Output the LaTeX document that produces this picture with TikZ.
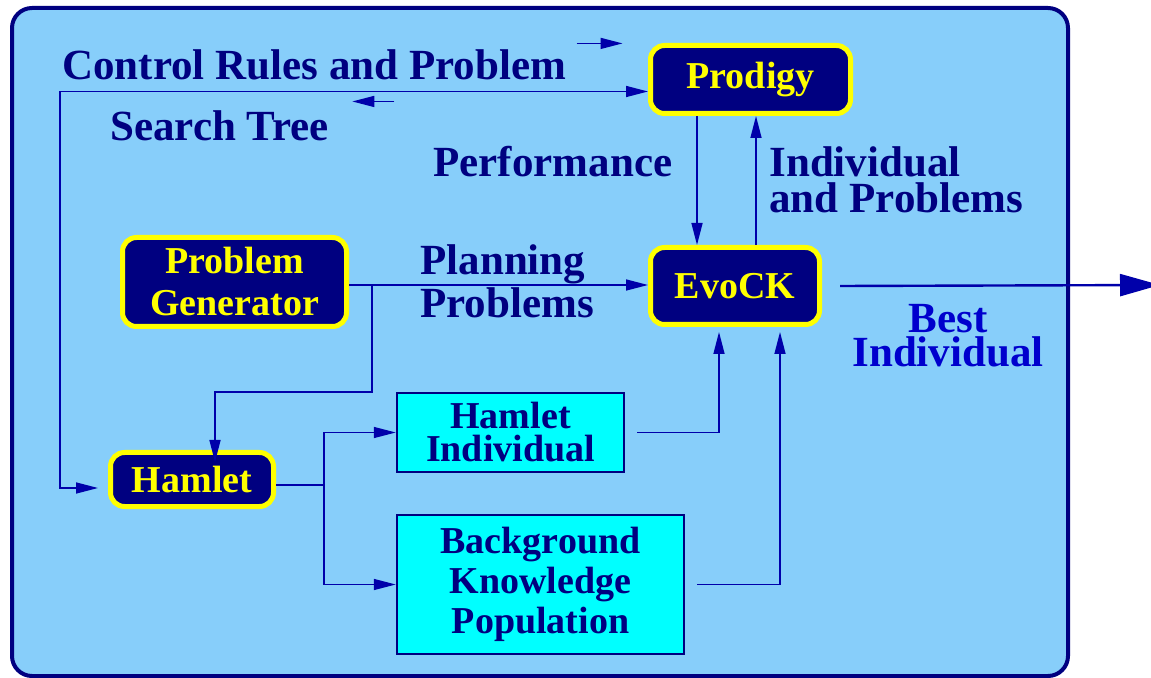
\documentclass[tikz,border=0pt]{standalone}
\usepackage{fontspec}
\setmainfont{Liberation Serif}[BoldFont={Liberation Serif Bold}]
\newfontfamily\diagfont{Liberation Serif Bold}
\usetikzlibrary{arrows.meta,calc}
\definecolor{sky}{RGB}{135,206,250}
\definecolor{deepnavy}{RGB}{0,0,128}
\definecolor{wire}{RGB}{0,0,170}
\definecolor{brightblue}{RGB}{0,0,205}
\definecolor{aqua}{RGB}{0,255,255}
\definecolor{lemon}{RGB}{255,255,0}
\begin{document}
\begin{tikzpicture}[x=0.5pt,y=-0.5pt,
  sys/.style={rounded corners=7pt,draw=lemon,line width=2.5pt,fill=deepnavy,
    text=lemon,align=center,font=\diagfont\fontsize{19}{21}\selectfont},
  store/.style={draw=deepnavy,line width=1.25pt,fill=aqua,text=deepnavy,
    align=center,font=\diagfont\fontsize{19}{#1}\selectfont},
  store/.default=19,
  lbl/.style={text=deepnavy,inner sep=0pt,align=left,
    font=\diagfont\fontsize{21.5}{#1}\selectfont},
  lbl/.default=18,
  conn/.style={draw=wire,line width=0.75pt,-{Triangle[length=11pt,width=5.5pt]}}]
\useasboundingbox (0,0) rectangle (1151,678);
\draw[deepnavy,fill=sky,line width=2pt,rounded corners=10pt] (12,8) rectangle (1068,676);

\node[sys,minimum width=100pt,minimum height=34pt] (prodigy) at (750.5,79.5) {Prodigy};
\node[sys,minimum width=84.5pt,minimum height=38.5pt] (evock) at (735,286) {EvoCK};
\node[sys,minimum width=112pt,minimum height=44.5pt] (gen) at (234.5,282) {Problem\\Generator};
\node[sys,minimum width=81.5pt,minimum height=27pt] (hamlet) at (192,479.5) {Hamlet};
\node[store=16.5,minimum width=113.5pt,minimum height=39.5pt] (hind) at (510.5,432.5) {Hamlet\\Individual};
\node[store=20,minimum width=143.5pt,minimum height=69.5pt] (bkp) at (540.5,584.5) {Background\\Knowledge\\Population};

\node[lbl,anchor=west] (ctrl) at (62,65) {Control Rules and Problem};
\node[lbl,anchor=west] (search) at (110,126) {Search Tree};
\node[lbl,anchor=west] (perf) at (433,162) {Performance};
\node[lbl,anchor=west] (indprob) at (769,180) {Individual\\and Problems};
\node[lbl=21.5,anchor=west] (plan) at (420,281) {Planning\\Problems};
\node[lbl=17,align=center,text=brightblue] (best) at (948,336) {Best\\Individual};

\coordinate (loop) at (60,488);
\coordinate (down) at (697,0);
\coordinate (up) at (756,0);
\coordinate (split) at (372,285);
\coordinate (drop) at (215,392);
\coordinate (fork) at (324,485);
\coordinate (inA) at (719,0);
\coordinate (inB) at (780,0);
\coordinate (out) at (1160,285);

\draw[conn,{Triangle[length=11pt,width=5.5pt]}-{Triangle[length=11pt,width=5.5pt]},shorten >=5pt]
  ($(prodigy.west)+(0,12)$) -| (loop) -- (loop -| hamlet.west);
\draw[conn] ($(ctrl.north east)+(10,-6)$) -- ++(46,0);
\draw[conn] ($(search.north east)+(65,-9)$) -- ++(-42,0);
\draw[conn] (prodigy.south -| down) -- (evock.north -| down);
\draw[conn] (evock.north -| up) -- (prodigy.south -| up);
\draw[conn] (gen.east |- split) -- (split -| evock.west);
\draw[conn] (split) |- (drop) -- ($(drop |- hamlet.north)+(0,12)$);
\draw[draw=wire,line width=0.75pt] (hamlet.east |- fork) -- (fork);
\draw[conn] (fork) |- (hind.west);
\draw[conn] (fork) |- (bkp.west);
\draw[conn,shorten >=2.5pt] ($(hind.east)+(12,0)$) -| (inA |- evock.south);
\draw[conn,shorten >=2.5pt] ($(bkp.east)+(12,0)$) -| (inB |- evock.south);
\draw[draw=wire,line width=1.2pt,-{Triangle[length=20pt,width=11pt]}]
  ($(evock.east)+(18,0)$) -- (out);
\end{tikzpicture}
\end{document}
